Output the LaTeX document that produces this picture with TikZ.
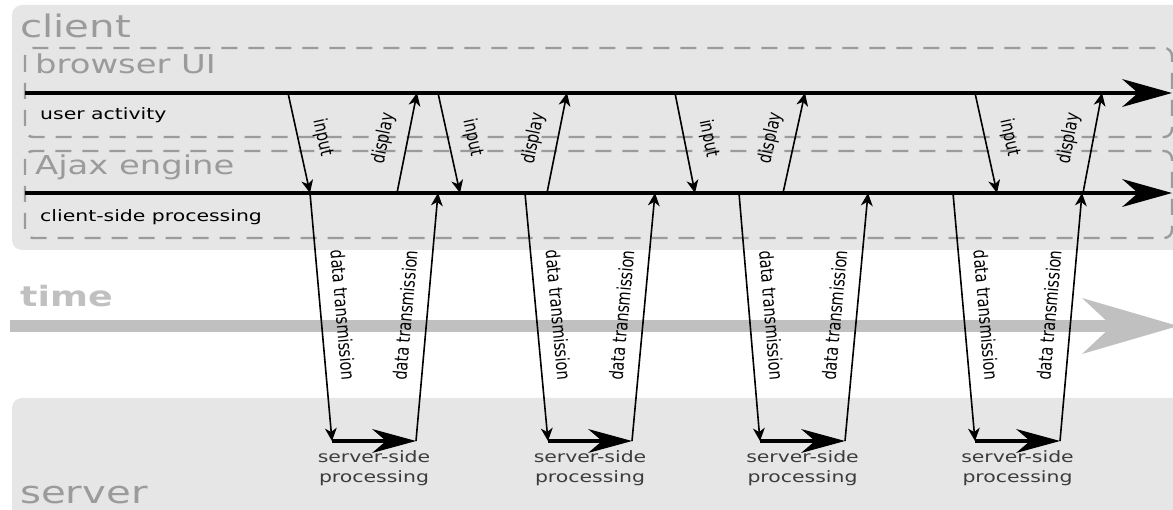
\documentclass[tikz,border=0pt]{standalone}
\usepackage{fontspec}
\setmainfont{DejaVu Sans}
\newfontfamily\widefont[FakeStretch=1.3]{DejaVu Sans}
\usepackage{tikz}
\usetikzlibrary{
    positioning,
    arrows.meta
}
\definecolor{boxGray}{RGB}{230,230,230}
\definecolor{dashGray}{RGB}{155,155,155}
\definecolor{titleGray}{RGB}{155,155,155}
\definecolor{timeGray}{RGB}{192,192,192}
\definecolor{procGray}{RGB}{60,60,60}

% labels along the arrows are a little thicker than they are long
\newcommand{\thicktext}[1]{\scalebox{1}[1.3]{#1}}

\tikzset{
    lane/.style={draw=dashGray, line width=2.4pt, dash pattern=on 16pt off 11pt, rounded corners=8pt},
    timeline/.style={line width=4pt, -{Stealth[length=50pt, width=28pt, inset=16pt, line width=0pt]}},
    msg/.style={line width=1.6pt, -{Stealth[length=13pt, width=12pt, inset=4pt, line width=0pt]}},
    srvarrow/.style={line width=4pt, -{Stealth[length=44pt, width=24pt, inset=14pt, line width=0pt]}},
    msglabel/.style={above, sloped, inner sep=14pt, font=\fontsize{14.5}{17}\selectfont},
    title/.style={anchor=base west, inner sep=0pt, text=titleGray},
    lanetext/.style={anchor=base west, inner sep=0pt, font=\widefont\fontsize{15.7}{19}\selectfont},
    proc/.style={below=7pt, inner sep=1pt, align=center, text=procGray, font=\widefont\fontsize{15.7}{20}\selectfont}
}

\begin{document}
\begin{tikzpicture}[x=1pt, y=-1pt]
    \clip (0,0) rectangle (1173,510);

    % client and server areas
    \fill[boxGray, rounded corners=10pt] (12,5) rectangle (1210,250);
    \fill[boxGray, rounded corners=10pt] (12,398) rectangle (1210,540);
    \draw[lane] (25,48) rectangle (1172,137);
    \draw[lane] (25,151) rectangle (1172,238);

    \node[title, font=\widefont\fontsize{31}{37}\selectfont] (client) at (20,38) {client};
    \node[title, font=\widefont\fontsize{26}{31}\selectfont] (browser) at (35,74) {browser UI};
    \node[title, font=\widefont\fontsize{26}{31}\selectfont] (ajax) at (35,175) {Ajax engine};
    \node[title, font=\widefont\fontsize{31}{37}\selectfont] (server) at (20,503) {server};
    \node[title, text=timeGray, font=\widefont\bfseries\fontsize{28}{34}\selectfont] (time) at (20,307) {time};

    % time axis
    \coordinate (tL) at (10,326);
    \coordinate (tR) at (1178,326);
    \draw[timeGray, line width=12pt, -{Stealth[length=96pt, width=56pt, inset=30pt, line width=0pt]}] (tL) -- (tR);

    % lanes
    \coordinate (uaL) at (25,93);
    \coordinate (uaR) at (1172,93);
    \coordinate (cpL) at (25,193);
    \coordinate (cpR) at (1172,193);
    \draw[timeline] (uaL) -- (uaR);
    \draw[timeline] (cpL) -- (cpR);
    \node[lanetext] (ua) at (40,120) {user activity};
    \node[lanetext] (cp) at (40,222) {client-side processing};

    % first round trip
    \coordinate (in1a) at (288,93);  \coordinate (in1b) at (310,193);
    \coordinate (dp1a) at (397,193); \coordinate (dp1b) at (417,93);
    \coordinate (tx1a) at (310,193); \coordinate (tx1b) at (332,441);
    \coordinate (rx1a) at (416,441); \coordinate (rx1b) at (438,193);
    \draw[msg] (in1a) -- (in1b) node[msglabel, midway] {\thicktext{input}};
    \draw[msg] (dp1a) -- (dp1b) node[msglabel, midway] {\thicktext{display}};
    \draw[msg] (tx1a) -- (tx1b) node[msglabel, midway] {\thicktext{data transmission}};
    \draw[msg] (rx1a) -- (rx1b) node[msglabel, midway] {\thicktext{data transmission}};
    \draw[srvarrow] (tx1b) -- (rx1a) node[proc, midway] (ssp1) {server-side\\processing};

    % second round trip
    \coordinate (in2a) at (438,93);  \coordinate (in2b) at (460,193);
    \coordinate (dp2a) at (547,193); \coordinate (dp2b) at (567,93);
    \coordinate (tx2a) at (525,193); \coordinate (tx2b) at (548,441);
    \coordinate (rx2a) at (632,441); \coordinate (rx2b) at (655,193);
    \draw[msg] (in2a) -- (in2b) node[msglabel, midway] {\thicktext{input}};
    \draw[msg] (dp2a) -- (dp2b) node[msglabel, midway] {\thicktext{display}};
    \draw[msg] (tx2a) -- (tx2b) node[msglabel, midway] {\thicktext{data transmission}};
    \draw[msg] (rx2a) -- (rx2b) node[msglabel, midway] {\thicktext{data transmission}};
    \draw[srvarrow] (tx2b) -- (rx2a) node[proc, midway] (ssp2) {server-side\\processing};

    % third round trip
    \coordinate (in3a) at (675,93);  \coordinate (in3b) at (695,193);
    \coordinate (dp3a) at (783,193); \coordinate (dp3b) at (805,93);
    \coordinate (tx3a) at (739,193); \coordinate (tx3b) at (760,441);
    \coordinate (rx3a) at (845,441); \coordinate (rx3b) at (868,193);
    \draw[msg] (in3a) -- (in3b) node[msglabel, midway] {\thicktext{input}};
    \draw[msg] (dp3a) -- (dp3b) node[msglabel, midway] {\thicktext{display}};
    \draw[msg] (tx3a) -- (tx3b) node[msglabel, midway] {\thicktext{data transmission}};
    \draw[msg] (rx3a) -- (rx3b) node[msglabel, midway] {\thicktext{data transmission}};
    \draw[srvarrow] (tx3b) -- (rx3a) node[proc, midway] (ssp3) {server-side\\processing};

    % fourth round trip
    \coordinate (in4a) at (975,93);   \coordinate (in4b) at (997,193);
    \coordinate (dp4a) at (1083,193); \coordinate (dp4b) at (1102,93);
    \coordinate (tx4a) at (953,193);  \coordinate (tx4b) at (975,441);
    \coordinate (rx4a) at (1060,441); \coordinate (rx4b) at (1082,193);
    \draw[msg] (in4a) -- (in4b) node[msglabel, midway] {\thicktext{input}};
    \draw[msg] (dp4a) -- (dp4b) node[msglabel, midway] {\thicktext{display}};
    \draw[msg] (tx4a) -- (tx4b) node[msglabel, midway] {\thicktext{data transmission}};
    \draw[msg] (rx4a) -- (rx4b) node[msglabel, midway] {\thicktext{data transmission}};
    \draw[srvarrow] (tx4b) -- (rx4a) node[proc, midway] (ssp4) {server-side\\processing};
\end{tikzpicture}
\end{document}
